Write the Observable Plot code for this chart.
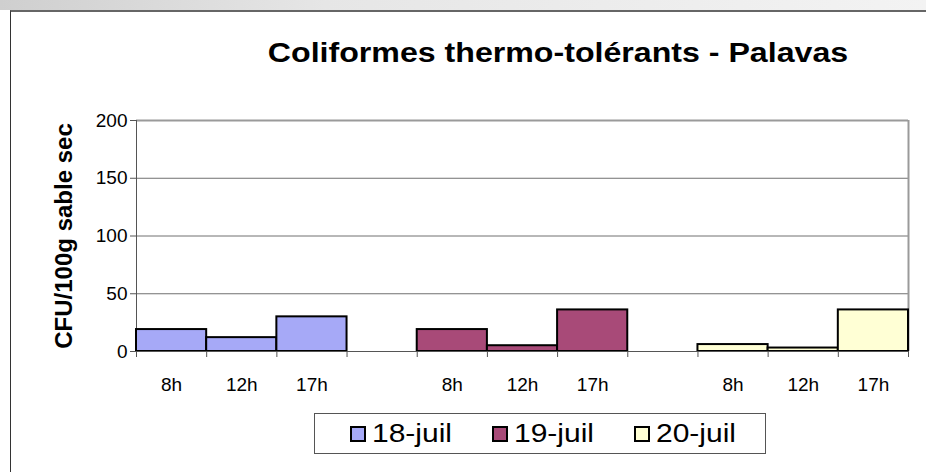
<!DOCTYPE html>
<html><head><meta charset="utf-8">
<script src="https://cdn.jsdelivr.net/npm/d3@7"></script>
<script src="https://cdn.jsdelivr.net/npm/@observablehq/plot@0.6"></script>
<style>
html,body{margin:0;padding:0;background:#fff;width:926px;height:472px;overflow:hidden;font-family:"Liberation Sans",Arial,sans-serif}
#strip{position:absolute;left:0;top:0;width:926px;height:10px;background:linear-gradient(to right,#cfcfcf,#e6e6e6 35%,#f3f3f3)}
#frame{position:absolute;left:10px;top:10px;width:960px;height:500px;border-left:1px solid #333;border-top:2px solid #666}
#title{position:absolute;left:558px;top:40px;transform:translateX(-50%) scaleX(1.19);white-space:nowrap;font-weight:bold;font-size:27px;line-height:27px;color:#000}
#chart{position:absolute;left:0;top:0}
#legend{position:absolute;left:314px;top:413px;width:452px;height:41px;border:1px solid #555;box-sizing:border-box;background:#fff}
.item{position:absolute;top:0;height:39px;display:flex;align-items:center;font-size:25px;white-space:nowrap}
.sw{display:inline-block;width:12px;height:12px;border:2px solid #000;margin-right:6px;flex:none}
.tx{display:inline-block;transform:scaleX(1.2);transform-origin:left center}
</style></head>
<body>
<div id="strip"></div>
<div id="frame"></div>
<div id="chart"></div>
<div id="title">Coliformes thermo-tolérants - Palavas</div>
<div id="legend"></div>
<script>
const dates = ["18-juil", "19-juil", "20-juil"];
const hours = ["8h", "12h", "17h"];
const values18 = [19, 12, 30];
const values19 = [19, 5, 36];
const values20 = [6, 3, 36];
const yTicks = [0, 50, 100, 150, 200];
const colors = ["#a6a9f7", "#a84a78", "#ffffd5"];
const yLabel = "CFU/100g sable sec";

const series = [values18, values19, values20];
const bars = [];
series.forEach((vals, g) => vals.forEach((v, h) => bars.push({date: dates[g], hour: hours[h], slot: g * 4 + h, value: v})));
const nSlots = dates.length * 4 - 1;
const boundaries = d3.range(0, nSlots + 1);
const labelPos = bars.map(d => d.slot + 0.5);
const labelOf = new Map(bars.map(d => [d.slot + 0.5, d.hour]));

const chart = Plot.plot({
  width: 926,
  height: 400,
  marginLeft: 136,
  marginRight: 18,
  marginTop: 120,
  marginBottom: 49,
  style: {fontFamily: "'Liberation Sans', Arial, sans-serif", fontSize: "19px", color: "#000", background: "transparent"},
  x: {domain: [0, nSlots], axis: null},
  y: {domain: [0, 200], axis: null},
  color: {domain: dates, range: colors},
  marks: [
    Plot.ruleY(yTicks.filter(t => t > 0 && t < 200), {stroke: "#707070", strokeWidth: 1}),
    Plot.ruleY([200], {stroke: "#9a9a9a", strokeWidth: 2}),
    Plot.ruleX([nSlots], {stroke: "#9a9a9a", strokeWidth: 2}),
    Plot.ruleX([0], {stroke: "#555", strokeWidth: 1}),
    Plot.rectY(bars, {x1: "slot", x2: d => d.slot + 1, y1: 0, y2: "value", fill: "date", stroke: "#000", strokeWidth: 2}),
    Plot.ruleY([0], {stroke: "#555", strokeWidth: 1}),
    Plot.axisY(yTicks, {tickSize: 6, tickPadding: 3, fontSize: 19, label: null, stroke: "#555"}),
    Plot.axisX(boundaries, {tickSize: 6, tickFormat: () => "", label: null, stroke: "#555"}),
    Plot.axisX(labelPos, {tickSize: 0, tickPadding: 26, fontSize: 19, tickFormat: d => labelOf.get(d), label: null}),
    Plot.text([yLabel], {frameAnchor: "left", dx: -72, rotate: -90, textAnchor: "middle", fontSize: 24, fontWeight: "bold", text: d => d})
  ]
});
document.getElementById("chart").appendChild(chart);

const legend = document.getElementById("legend");
dates.forEach((d, i) => {
  const it = document.createElement("div");
  it.className = "item";
  it.style.left = (35 + 142 * i) + "px";
  const sw = document.createElement("span");
  sw.className = "sw";
  sw.style.background = colors[i];
  it.appendChild(sw);
  const tx = document.createElement("span");
  tx.className = "tx";
  tx.textContent = d;
  it.appendChild(tx);
  legend.appendChild(it);
});
</script>
</body></html>
